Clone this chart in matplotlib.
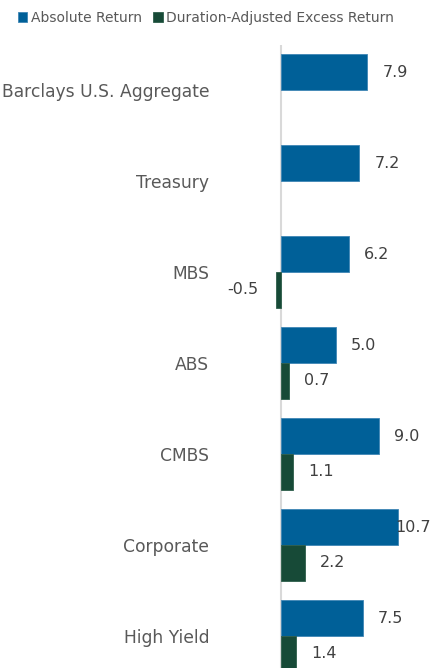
import matplotlib.pyplot as plt
import numpy as np

categories = ['Barclays U.S. Aggregate', 'Treasury', 'MBS', 'ABS', 'CMBS',
              'Corporate', 'High Yield']
absolute_return = [7.9, 7.2, 6.2, 5.0, 9.0, 10.7, 7.5]
excess_return = [None, None, -0.5, 0.7, 1.1, 2.2, 1.4]

blue = '#006098'
green = '#174a37'
label_grey = '#595959'
value_grey = '#404040'

W, H = 436, 668
fig = plt.figure(figsize=(W / 100, H / 100), dpi=100)

# axes placed so x=0 sits at ~281px, group centres every 91px
ax_left, ax_top = 215, 45
ax = fig.add_axes([ax_left / W, 0, 1 - ax_left / W, 1 - ax_top / H])
px_per_unit = 10.9
ax.set_xlim(-(281 - ax_left) / px_per_unit, (W - 281) / px_per_unit)
ax.set_ylim((H - 90) / 91, (ax_top - 90) / 91)

y = np.arange(len(categories))
h = 0.395
ax.barh(y - h / 2, absolute_return, height=h, color=blue,
        edgecolor='#3f86b5', linewidth=0.6, label='Absolute Return')
ex_vals = [np.nan if v is None else v for v in excess_return]
ax.barh(y + h / 2, ex_vals, height=h, color=green,
        edgecolor='#2d5e4b', linewidth=0.6,
        label='Duration-Adjusted Excess Return')

xmax = ax.get_xlim()[1]
off = 28 / px_per_unit
for yi, v in zip(y, absolute_return):
    xt = min(v + off, xmax - 2.1)
    ax.text(xt, yi - h / 2, f'{v:.1f}', ha='center', va='center',
            fontsize=11.5, color=value_grey)
for yi, v in zip(y, excess_return):
    if v is None:
        continue
    xt = v + off if v >= 0 else v - 33 / px_per_unit
    ax.text(xt, yi + h / 2, f'{v:.1f}', ha='center', va='center',
            fontsize=11.5, color=value_grey)

ax.axvline(0, color='#d9d9d9', linewidth=1.5, zorder=0)

ax.set_yticks(y)
ax.set_yticklabels(categories, fontsize=12.3, color=label_grey)
ax.tick_params(axis='y', length=0, pad=4.3)
ax.set_xticks([])
for s in ax.spines.values():
    s.set_visible(False)

fig.legend(loc='upper left', bbox_to_anchor=(12 / W, 1 - 5 / H), ncol=2,
           frameon=False, fontsize=10, labelcolor=label_grey,
           handlelength=0.7, handleheight=0.7, handletextpad=0.25,
           columnspacing=0.8, borderaxespad=0)

fig.savefig('out.png', dpi=100)
